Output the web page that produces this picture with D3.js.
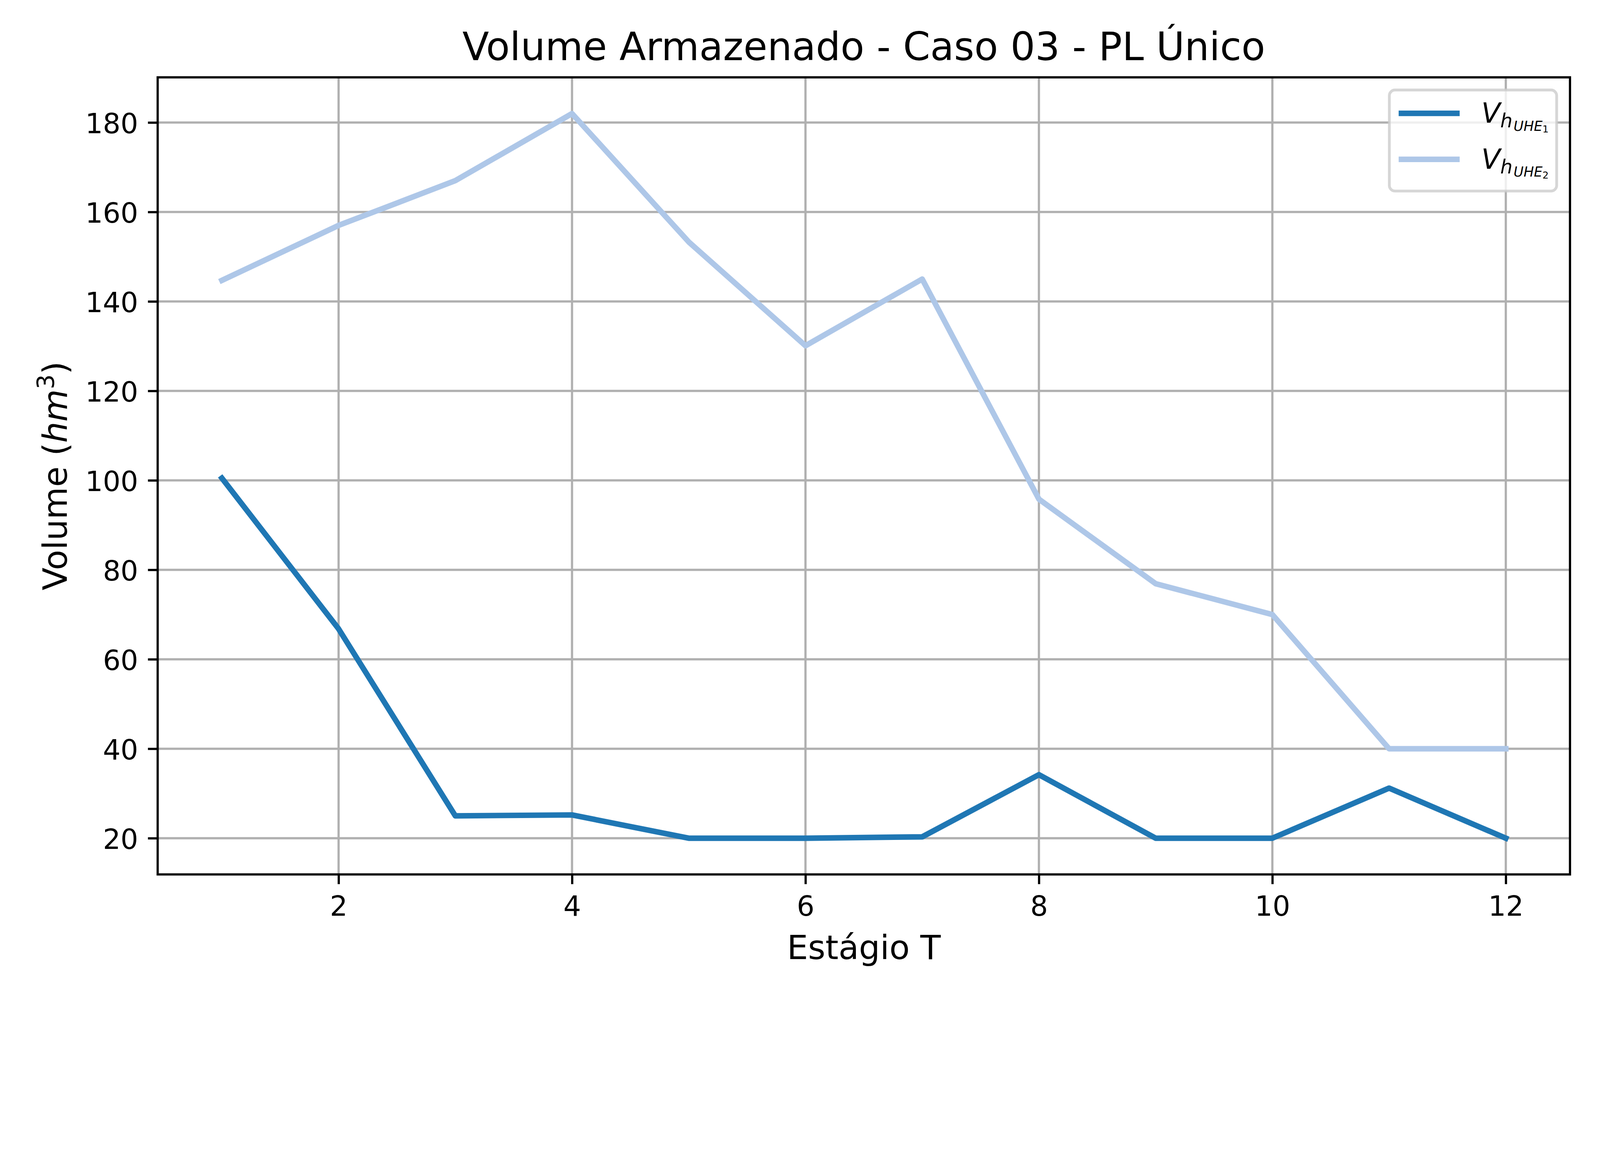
<!DOCTYPE html>
<html>
<head>
<meta charset="utf-8">
<script src="https://cdn.jsdelivr.net/npm/d3@7"></script>
<style>
  html, body { margin: 0; padding: 0; background: #fff; overflow: hidden; }
  svg { display: block; width: 100%; height: auto; }
  text { font-family: "DejaVu Sans", sans-serif; fill: #000; }
</style>
</head>
<body>
<svg id="plt" viewBox="0 0 4800 3000"></svg>
<script>
'use strict';

// Data
let stages = [1, 2, 3, 4, 5, 6, 7, 8, 9, 10, 11, 12];
let volUHE1 = [100.5, 66.8, 25, 25.2, 20, 20, 20.3, 34.2, 20, 20, 31.2, 20];
let volUHE2 = [144.7, 157, 167, 182, 153.3, 130.1, 145, 95.8, 76.9, 70, 40, 40];
let xTicks = [2, 4, 6, 8, 10, 12];
let yTicks = [20, 40, 60, 80, 100, 120, 140, 160, 180];
let seriesColors = ['#1f77b4', '#aec7e8'];

// Frame setup (matplotlib style, 600 dpi)
let width = 4800;
let height = 3000;
let axLeft = 473, axRight = 4710, axTop = 232, axBottom = 2623;
let pt = 600 / 72; // one point in pixels

let svg = d3.select('#plt');
svg.append('rect').attr('width', width).attr('height', height).attr('fill', '#fff');

// Mapping from data coords to page coords (5% margins like matplotlib)
let xMin = d3.min(stages), xMax = d3.max(stages);
let xPad = (xMax - xMin) * 0.05;
let xMap = d3.scaleLinear()
    .domain([xMin - xPad, xMax + xPad])
    .range([axLeft, axRight]);
let allVals = volUHE1.concat(volUHE2);
let yLo = d3.min(allVals), yHi = d3.max(allVals);
let yPad = (yHi - yLo) * 0.05;
let yMap = d3.scaleLinear()
    .domain([yLo - yPad, yHi + yPad])
    .range([axBottom, axTop]);

// Grid
let grid = svg.append('g');
grid.selectAll('.gx').data(xTicks).enter().append('line')
    .attr('x1', d => xMap(d)).attr('x2', d => xMap(d))
    .attr('y1', axTop).attr('y2', axBottom)
    .attr('stroke', '#b0b0b0').attr('stroke-width', 0.8 * pt);
grid.selectAll('.gy').data(yTicks).enter().append('line')
    .attr('x1', axLeft).attr('x2', axRight)
    .attr('y1', d => yMap(d)).attr('y2', d => yMap(d))
    .attr('stroke', '#b0b0b0').attr('stroke-width', 0.8 * pt);

// Lines
let line = d3.line()
    .x((d, i) => xMap(stages[i]))
    .y(d => yMap(d));
[volUHE1, volUHE2].forEach(function (vals, k) {
    svg.append('path')
        .attr('d', line(vals))
        .attr('fill', 'none')
        .attr('stroke', seriesColors[k])
        .attr('stroke-width', 2 * pt)
        .attr('stroke-linejoin', 'round')
        .attr('stroke-linecap', 'square');
});

// Axes (ticks + labels) via d3 axis
let xAxis = svg.append('g')
    .attr('transform', 'translate(0,' + axBottom + ')')
    .call(d3.axisBottom(xMap).tickValues(xTicks).tickSize(3.5 * pt).tickPadding(3.5 * pt));
let yAxis = svg.append('g')
    .attr('transform', 'translate(' + axLeft + ',0)')
    .call(d3.axisLeft(yMap).tickValues(yTicks).tickSize(3.5 * pt).tickPadding(3.5 * pt));
[xAxis, yAxis].forEach(function (ax) {
    ax.select('.domain').remove();
    ax.selectAll('.tick line').attr('stroke', '#000').attr('stroke-width', 0.8 * pt);
    ax.selectAll('.tick text')
        .attr('font-family', '"DejaVu Sans", sans-serif')
        .attr('font-size', 10 * pt)
        .attr('fill', '#000');
});
xAxis.selectAll('.tick text').attr('dy', null).attr('y', 2747 - axBottom);
yAxis.selectAll('.tick text').attr('dy', '0.38em');

// Spines
svg.append('rect')
    .attr('x', axLeft).attr('y', axTop)
    .attr('width', axRight - axLeft).attr('height', axBottom - axTop)
    .attr('fill', 'none').attr('stroke', '#000').attr('stroke-width', 0.8 * pt);

// Title and axis labels
svg.append('text')
    .attr('x', (axLeft + axRight) / 2).attr('y', 180)
    .attr('text-anchor', 'middle')
    .attr('font-size', 14 * pt)
    .text('Volume Armazenado - Caso 03 - PL Único');

svg.append('text')
    .attr('x', (axLeft + axRight) / 2).attr('y', 2877)
    .attr('text-anchor', 'middle')
    .attr('font-size', 12 * pt)
    .text('Estágio T');

let yLab = svg.append('text')
    .attr('transform', 'translate(200,' + (axTop + axBottom) / 2 + ') rotate(-90)')
    .attr('text-anchor', 'middle')
    .attr('font-size', 12 * pt);
yLab.append('tspan').text('Volume (');
yLab.append('tspan').attr('font-style', 'italic').text('hm');
yLab.append('tspan').attr('font-size', 12 * pt * 0.7).attr('dy', -38).text('3');
yLab.append('tspan').attr('dy', 38).text(')');

// Legend
let legend = svg.append('g');
legend.append('rect')
    .attr('x', 4168).attr('y', 270)
    .attr('width', 4670 - 4168).attr('height', 573 - 270)
    .attr('rx', 17).attr('ry', 17)
    .attr('fill', '#fff').attr('fill-opacity', 0.8)
    .attr('stroke', '#cccccc').attr('stroke-opacity', 0.8)
    .attr('stroke-width', 1 * pt);
let legendRows = [340, 478];
let legendSubs = ['1', '2'];
legendRows.forEach(function (yy, k) {
    legend.append('line')
        .attr('x1', 4196).attr('x2', 4379)
        .attr('y1', yy).attr('y2', yy)
        .attr('stroke', seriesColors[k])
        .attr('stroke-width', 2 * pt);
    let t = legend.append('text')
        .attr('x', 4444).attr('y', yy + 28)
        .attr('font-size', 10 * pt);
    t.append('tspan').attr('font-style', 'italic').text('V');
    t.append('tspan').attr('font-style', 'italic').attr('font-size', 58).attr('dy', 14).text('h');
    t.append('tspan').attr('font-style', 'italic').attr('font-size', 41).attr('dy', 10).attr('dx', 3).text('UHE');
    t.append('tspan').attr('font-size', 29).attr('dy', 5).text(legendSubs[k]);
});
</script>
</body>
</html>
